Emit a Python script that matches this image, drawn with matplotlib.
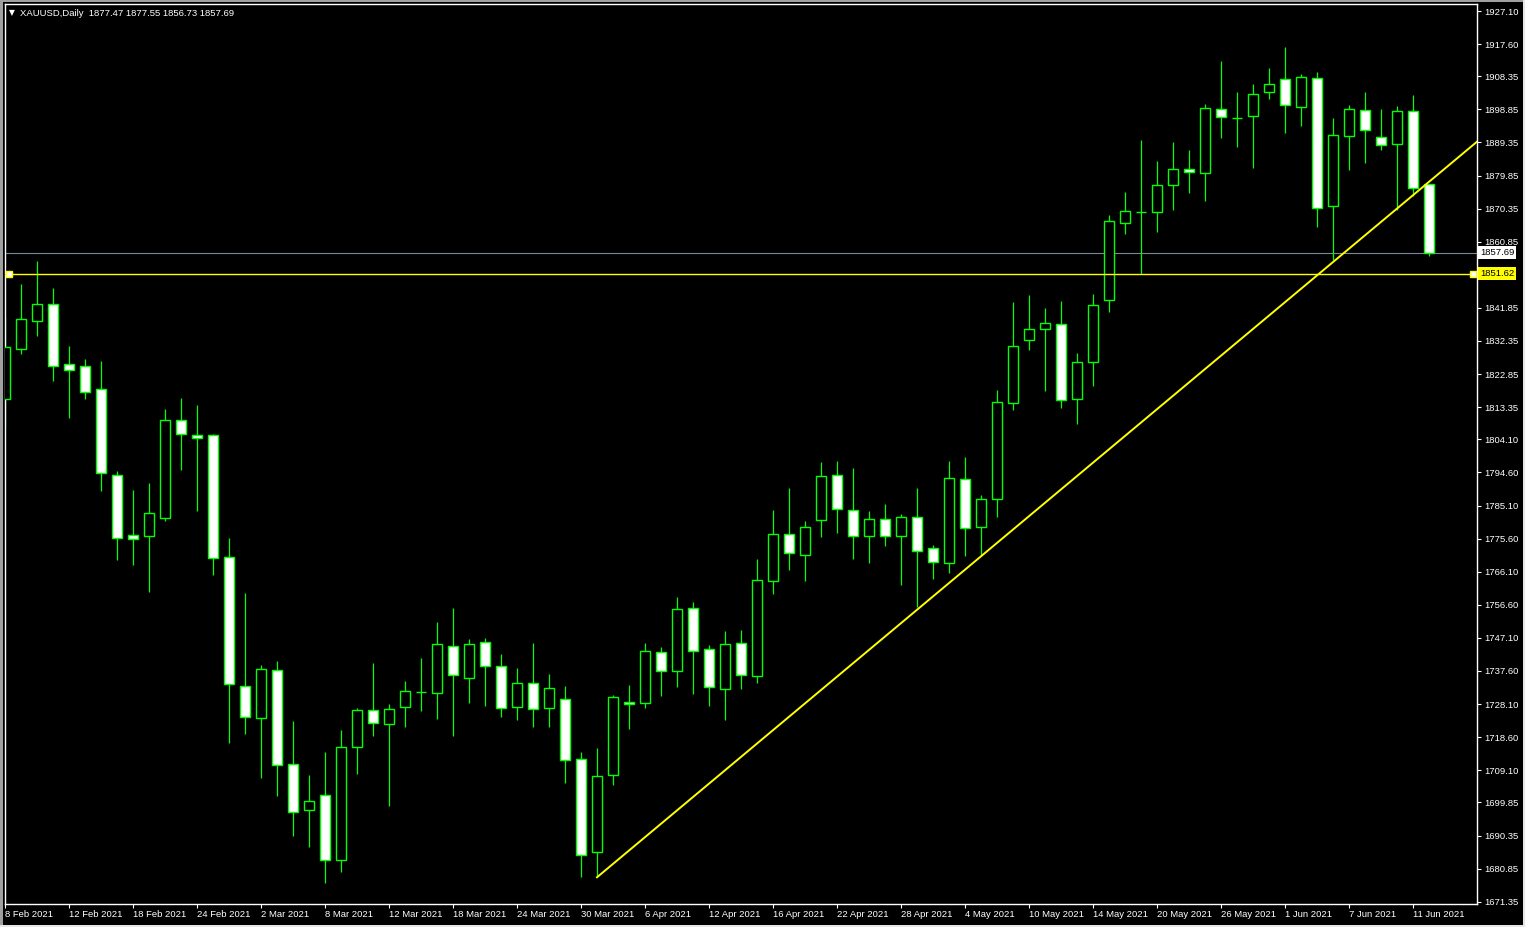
import matplotlib
matplotlib.use('Agg')
import matplotlib.pyplot as plt
from matplotlib.patches import Rectangle
from matplotlib.transforms import blended_transform_factory

# XAUUSD Daily, 8 Feb 2021 .. 14 Jun 2021 (one bar per trading day)
opens = [1815.6, 1830.1, 1838.0, 1842.9, 1825.7, 1825.3, 1818.7, 1794.0, 1776.6, 1776.4,
         1781.4, 1809.6, 1805.3, 1805.3, 1770.2, 1733.2, 1724.2, 1738.0, 1710.8, 1697.6,
         1701.9, 1683.2, 1715.9, 1726.3, 1722.3, 1727.2, 1731.5, 1731.4, 1744.7, 1735.5,
         1745.8, 1738.9, 1727.2, 1734.1, 1726.9, 1729.5, 1712.2, 1685.5, 1707.7, 1728.6,
         1728.3, 1743.0, 1737.5, 1755.6, 1743.8, 1732.3, 1745.6, 1736.1, 1763.4, 1776.8,
         1770.8, 1780.9, 1793.8, 1783.7, 1776.3, 1781.2, 1776.4, 1781.7, 1772.8, 1768.5,
         1792.6, 1778.9, 1786.9, 1814.5, 1832.6, 1835.7, 1837.1, 1815.6, 1826.2, 1844.0,
         1866.1, 1869.5, 1869.5, 1877.2, 1881.8, 1880.7, 1898.9, 1896.5, 1896.9, 1903.9,
         1907.5, 1899.6, 1907.8, 1871.0, 1891.3, 1898.6, 1891.0, 1888.8, 1898.3, 1877.47]
highs = [1839.2, 1848.7, 1855.3, 1847.6, 1830.9, 1827.2, 1826.6, 1795.1, 1789.6, 1791.6,
         1812.8, 1815.9, 1813.9, 1805.6, 1775.7, 1760.0, 1739.3, 1740.5, 1723.2, 1707.8,
         1714.3, 1720.7, 1727.0, 1739.9, 1728.0, 1734.7, 1741.3, 1751.7, 1755.7, 1746.7,
         1747.1, 1742.5, 1738.5, 1745.6, 1736.7, 1733.3, 1714.3, 1715.5, 1730.6, 1733.6,
         1745.6, 1744.5, 1758.8, 1757.3, 1745.1, 1749.1, 1749.4, 1769.7, 1783.8, 1790.1,
         1780.7, 1797.6, 1797.9, 1795.9, 1783.5, 1785.6, 1782.7, 1790.1, 1773.7, 1797.9,
         1799.0, 1788.1, 1818.3, 1843.6, 1845.6, 1841.8, 1843.8, 1828.9, 1845.8, 1868.5,
         1875.1, 1890.1, 1884.0, 1889.5, 1887.2, 1900.3, 1912.7, 1903.8, 1906.1, 1910.7,
         1916.8, 1909.0, 1909.5, 1896.3, 1900.1, 1903.8, 1899.0, 1899.8, 1903.0, 1877.55]
lows = [1807.7, 1828.7, 1833.9, 1821.0, 1810.3, 1815.7, 1789.3, 1769.6, 1768.1, 1760.4,
        1780.6, 1795.4, 1783.4, 1765.3, 1717.0, 1719.5, 1706.9, 1701.8, 1690.3, 1687.1,
        1676.6, 1680.0, 1708.1, 1719.0, 1698.9, 1721.6, 1726.2, 1723.9, 1719.0, 1728.5,
        1727.4, 1724.5, 1723.6, 1721.6, 1721.6, 1705.5, 1678.5, 1678.4, 1705.0, 1721.0,
        1727.1, 1730.4, 1733.1, 1731.1, 1727.4, 1723.6, 1732.5, 1734.2, 1759.6, 1766.7,
        1763.5, 1776.2, 1777.3, 1769.8, 1768.7, 1773.6, 1762.4, 1755.9, 1764.1, 1765.7,
        1770.7, 1770.8, 1781.9, 1812.6, 1829.9, 1818.1, 1813.2, 1808.6, 1819.5, 1840.8,
        1863.2, 1851.62, 1863.7, 1870.0, 1874.9, 1872.6, 1890.7, 1888.1, 1882.1, 1901.9,
        1892.2, 1894.2, 1865.2, 1855.6, 1881.5, 1883.5, 1887.2, 1870.0, 1874.1, 1856.73]
closes = [1830.6, 1838.6, 1843.1, 1825.3, 1824.1, 1817.8, 1794.4, 1775.8, 1775.6, 1783.1,
          1809.6, 1805.5, 1804.6, 1769.9, 1733.8, 1724.5, 1738.1, 1710.7, 1697.2, 1700.2,
          1683.2, 1715.8, 1726.5, 1722.6, 1726.6, 1731.8, 1731.5, 1745.3, 1736.4, 1745.3,
          1738.9, 1726.9, 1734.1, 1726.6, 1732.6, 1712.0, 1684.7, 1707.4, 1730.0, 1728.0,
          1743.3, 1737.5, 1755.3, 1743.3, 1732.9, 1745.3, 1736.3, 1763.6, 1776.8, 1771.4,
          1778.9, 1793.5, 1784.0, 1776.4, 1781.2, 1776.4, 1781.7, 1772.0, 1768.8, 1792.9,
          1778.6, 1786.9, 1814.8, 1830.8, 1835.7, 1837.4, 1815.3, 1826.2, 1842.6, 1866.7,
          1869.6, 1869.5, 1877.1, 1881.7, 1880.8, 1899.2, 1896.6, 1896.5, 1903.2, 1906.1,
          1900.2, 1908.1, 1870.5, 1891.4, 1898.9, 1892.9, 1888.5, 1898.3, 1876.2, 1857.69]

# time scale labels, one every 4 bars
date_labels = ["8 Feb 2021", "12 Feb 2021", "18 Feb 2021", "24 Feb 2021", "2 Mar 2021",
               "8 Mar 2021", "12 Mar 2021", "18 Mar 2021", "24 Mar 2021", "30 Mar 2021",
               "6 Apr 2021", "12 Apr 2021", "16 Apr 2021", "22 Apr 2021", "28 Apr 2021",
               "4 May 2021", "10 May 2021", "14 May 2021", "20 May 2021", "26 May 2021",
               "1 Jun 2021", "7 Jun 2021", "11 Jun 2021"]
label_step = 4

price_ticks = [1927.10, 1917.60, 1908.35, 1898.85, 1889.35, 1879.85, 1870.35, 1860.85,
               1841.85, 1832.35, 1822.85, 1813.35, 1804.10, 1794.60, 1785.10, 1775.60,
               1766.10, 1756.60, 1747.10, 1737.60, 1728.10, 1718.60, 1709.10, 1699.85,
               1690.35, 1680.85, 1671.35]

symbol = "XAUUSD,Daily"
bid_price = 1857.69
level_price = 1851.62
# trend line anchors (bar index, price)
trend_bars = [37, 92]
trend_prices = [1678.36, 1889.57]

GREEN = '#00ff00'
YELLOW = '#ffff00'
W, H = 1525, 927


def draw_chart():
    plt.rcParams['font.family'] = ['Liberation Sans', 'DejaVu Sans']
    fig = plt.figure(figsize=(W / 100, H / 100), dpi=100, facecolor='black')

    # window border (sunken frame)
    fig.add_artist(Rectangle((0, 0), 3 / W, 1, transform=fig.transFigure, color='#a0a0a0', lw=0))
    fig.add_artist(Rectangle((0, 1 - 1.5 / H), 1, 1.5 / H, transform=fig.transFigure, color='#a0a0a0', lw=0))
    fig.add_artist(Rectangle((0, 0), 1, 2 / H, transform=fig.transFigure, color='#e6e6e6', lw=0))
    fig.add_artist(Rectangle((1 - 2 / W, 0), 2 / W, 1, transform=fig.transFigure, color='#e6e6e6', lw=0))

    ax = fig.add_axes([4.5 / W, 23 / H, (1477 - 4.5) / W, (904 - 4) / H])
    ax.set_facecolor('black')

    # candles: hollow = up day, white = down day
    for i in range(len(opens)):
        o, h, l, c = opens[i], highs[i], lows[i], closes[i]
        ax.vlines(i, l, h, color=GREEN, lw=0.9, zorder=2)
        up = c >= o
        ax.add_patch(Rectangle((i - 0.3, min(o, c)), 0.6, abs(c - o),
                               facecolor='black' if up else 'white',
                               edgecolor=GREEN, lw=1.0, zorder=3))

    blend = blended_transform_factory(ax.transAxes, ax.transData)

    # bid line + horizontal level + trend line
    ax.axhline(bid_price, color='#778899', lw=0.8, zorder=1)
    ax.axhline(level_price, color=YELLOW, lw=1.0, zorder=4)
    ax.plot([0.003, 0.997], [level_price, level_price], transform=blend, ls='none',
            marker='s', ms=4, mfc='white', mec=YELLOW, mew=1, zorder=5, clip_on=False)
    ax.plot(trend_bars, trend_prices, color=YELLOW, lw=1.4, zorder=4)

    ax.set_xlim(-0.03, 92.0)
    ax.set_ylim(1670.69, 1929.11)

    for s in ax.spines.values():
        s.set_color('white')
        s.set_linewidth(1.0)

    ax.yaxis.tick_right()
    ax.set_yticks(price_ticks)
    ax.set_yticklabels([f'{p:.2f}' for p in price_ticks])
    ax.tick_params(axis='y', colors='white', labelsize=6.8, length=3, width=0.8, pad=2)

    ax.set_xticks(list(range(0, len(date_labels) * label_step, label_step)))
    ax.set_xticklabels(date_labels, ha='left')
    ax.tick_params(axis='x', colors='white', labelsize=6.8, length=3, width=0.8, pad=1.5)

    # price labels on the scale
    ax.annotate(f'{bid_price:.2f}', xy=(1, bid_price), xycoords=blend, xytext=(3, 0),
                textcoords='offset pixels', ha='left', va='center', fontsize=6.8, color='black',
                bbox=dict(boxstyle='square,pad=0.2', fc='white', ec='none'), annotation_clip=False)
    ax.annotate(f'{level_price:.2f}', xy=(1, level_price), xycoords=blend, xytext=(3, 0),
                textcoords='offset pixels', ha='left', va='center', fontsize=6.8, color='black',
                bbox=dict(boxstyle='square,pad=0.2', fc=YELLOW, ec='none'), annotation_clip=False)

    # header
    header = f"{symbol}  {opens[-1]:.2f} {highs[-1]:.2f} {lows[-1]:.2f} {closes[-1]:.2f}"
    fig.text(12 / W, 1 - 13 / H, '\u25bc', color='white', fontsize=5.5, ha='center', va='center',
             family=['DejaVu Sans'])
    fig.text(20 / W, 1 - 13 / H, header, color='white', fontsize=6.8, ha='left', va='center')

    fig.savefig('out.png', dpi=100, facecolor='black')


if __name__ == "__main__":
    draw_chart()
